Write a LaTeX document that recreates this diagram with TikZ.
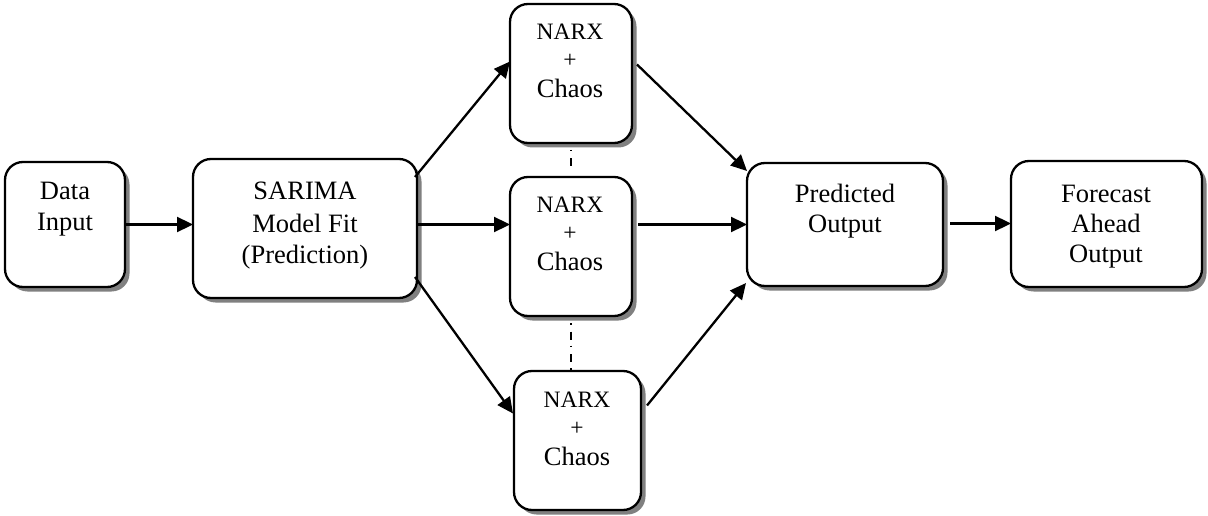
\documentclass[tikz,border=0pt]{standalone}
\usepackage{fontspec}
\setmainfont{Liberation Serif}
\usetikzlibrary{arrows.meta,shadows,calc}
\begin{document}
\begin{tikzpicture}[x=1pt,y=-1pt,
  blk/.style={draw=black,line width=2.3pt,rounded corners=18pt,fill=white,inner sep=0pt,outer sep=0pt,
    drop shadow={shadow xshift=4.5pt,shadow yshift=-4.5pt,fill=black!50,opacity=1}},
  big/.style={anchor=base,inner sep=0pt,font=\fontsize{26.5}{31}\selectfont},
  small/.style={anchor=base,inner sep=0pt,font=\fontsize{23.5}{28}\selectfont},
  arr/.style={line width=2.3pt,-{Triangle[length=16pt,width=15pt]}},
  dd/.style={line width=1.5pt,dash pattern=on 1.5pt off 7pt on 8pt off 6pt}
]
\useasboundingbox (0,0) rectangle (1208,516);
% boxes
\node[blk,minimum width=120pt,minimum height=125pt] (data) at (65,224.5) {};
\node[blk,minimum width=224pt,minimum height=139pt] (sarima) at (305,228.5) {};
\node[blk,minimum width=122pt,minimum height=139pt] (n1) at (571,73.5) {};
\node[blk,minimum width=122pt,minimum height=139pt] (n2) at (571,246.5) {};
\node[blk,minimum width=127pt,minimum height=139pt] (n3) at (577.5,440.5) {};
\node[blk,minimum width=196pt,minimum height=123pt] (pred) at (845,224.5) {};
\node[blk,minimum width=191pt,minimum height=126pt] (fore) at (1106.5,224) {};
% texts
\node[big] (d1) at (65,200) {Data};
\node[big] (d2) at (65,230) {Input};
\node[big] (s1) at (305,200) {SARIMA};
\node[big] (s2) at (305,232) {Model Fit};
\node[big] (s3) at (305,263) {(Prediction)};
\node[small] (a1) at (570,40) {NARX};
\node[small] (a2) at (570,68) {+};
\node[big] (a3) at (570,98) {Chaos};
\node[small] (b1) at (570,212) {NARX};
\node[small] (b2) at (570,240) {+};
\node[big] (b3) at (570,270) {Chaos};
\node[small] (c1) at (577,407) {NARX};
\node[small] (c2) at (577,435) {+};
\node[big] (c3) at (577,465) {Chaos};
\node[big] (p1) at (845,203) {Predicted};
\node[big] (p2) at (845,233) {Output};
\node[big] (f1) at (1106,202) {Forecast};
\node[big] (f2) at (1106,232) {Ahead};
\node[big] (f3) at (1106,262) {Output};
% connectors
\draw[arr] (data.east |- pred.west) -- (sarima.west |- pred.west);
\draw[arr] (sarima.east |- pred.west) -- (n2.west |- pred.west);
\draw[arr] ($(sarima.north east)+(-2,18)$) -- ($(n1.west)+(0,-12)$);
\draw[arr] ($(sarima.south east)+(-2,-21)$) -- ($(n3.west)+(-1,-27)$);
\draw[arr] ($(n1.east)+(5,-9)$) -- ($(pred.north west)+(0,8)$);
\draw[arr] ($(n2.east |- pred.west)+(6,0)$) -- (pred.west);
\draw[arr] ($(n3.east)+(6,-35)$) -- ($(pred.south west)+(-1,-3)$);
\draw[arr] ($(pred.east)+(7,-1)$) -- ($(fore.west |- pred.east)+(0,-1)$);
\draw[dd] ($(n1.south)+(0,7)$) -- ($(n2.north)+(0,-10)$);
\draw[dd] ($(n2.south)+(0,7)$) -- ($(n2.south |- n3.north)+(0,-1)$);
\end{tikzpicture}
\end{document}
